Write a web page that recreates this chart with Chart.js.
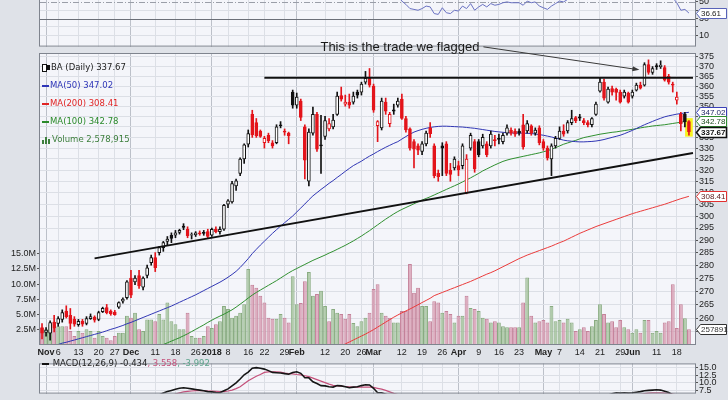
<!DOCTYPE html>
<html>
<head>
<meta charset="utf-8">
<script src="https://cdn.jsdelivr.net/npm/chart.js@4/dist/chart.umd.min.js"></script>
<style>
  body { margin: 0; width: 728px; height: 400px; overflow: hidden; background: #dfe2e8; position: relative; }
  canvas { position: absolute; left: 0; }
  #rsi { top: -50px; }
  #main { top: 30px; }
  #macd { top: 357px; }
  .legend { position: absolute; font: 8.5px "DejaVu Sans"; line-height: 9px; white-space: pre; }
  .ic { display: inline-block; width: 7px; height: 2px; vertical-align: middle; margin-right: 1px; }
  .bar { display: inline-block; width: 2px; vertical-align: bottom; margin-right: 1px; background: #3d7f3d; }
</style>
</head>
<body>
<canvas id="rsi" width="728" height="103"></canvas>
<canvas id="main" width="728" height="328"></canvas>
<canvas id="macd" width="728" height="43"></canvas>

<div class="legend" style="left:42px;top:54px">
<div><span style="display:inline-block;width:3px;height:6px;border:1px solid #111;background:#fff;vertical-align:middle"></span><span style="display:inline-block;width:3px;height:5px;background:#111;vertical-align:middle;margin-right:1px"></span><span style="color:#222">BA (Daily) 337.67</span></div>
<div style="color:#2e35b8"><span class="ic" style="background:#2e35b8"></span>MA(50) 347.02</div>
<div style="color:#e02424"><span class="ic" style="background:#e02424"></span>MA(200) 308.41</div>
<div style="color:#2a8a2a"><span class="ic" style="background:#2a8a2a"></span>MA(100) 342.78</div>
<div style="color:#3d7f3d"><span class="bar" style="height:4px"></span><span class="bar" style="height:7px"></span><span class="bar" style="height:5px;margin-right:2px"></span>Volume 2,578,915</div>
</div>

<div class="legend" style="left:42px;top:359px"><span class="ic" style="background:#111"></span> <span style="color:#222">MACD(12,26,9) -0.434</span><span style="color:#c4507a">, 3.558</span><span style="color:#5aa38a">, -3.992</span></div>

<script>
// trading days shown on the chart
const months = [
  ['Oct', [31]],
  ['Nov', [1,2,3,6,7,8,9,10,13,14,15,16,17,20,21,22,24,27,28,29,30]],
  ['Dec', [1,4,5,6,7,8,11,12,13,14,15,18,19,20,21,22,26,27,28,29]],
  ['Jan', [2,3,4,5,8,9,10,11,12,16,17,18,19,22,23,24,25,26,29,30,31]],
  ['Feb', [1,2,5,6,7,8,9,12,13,14,15,16,20,21,22,23,26,27,28]],
  ['Mar', [1,2,5,6,7,8,9,12,13,14,15,16,19,20,21,22,23,26,27,28,29]],
  ['Apr', [2,3,4,5,6,9,10,11,12,13,16,17,18,19,20,23,24,25,26,27,30]],
  ['May', [1,2,3,4,7,8,9,10,11,14,15,16,17,18,21,22,23,24,25,29,30,31]],
  ['Jun', [1,4,5,6,7,8,11,12,13,14,15,18,19,20,21]]
];

const tickDates = ['Nov 1','Nov 6','Nov 13','Nov 20','Nov 27','Dec 1','Dec 11','Dec 18','Dec 26','Jan 2','Jan 8','Jan 16','Jan 22','Jan 29',
  'Feb 1','Feb 12','Feb 20','Feb 26','Mar 1','Mar 12','Mar 19','Mar 26','Apr 2','Apr 9','Apr 16','Apr 23','May 1','May 7','May 14','May 21','May 29','Jun 1','Jun 11','Jun 18'];
const tickNames = ['Nov','6','13','20','27','Dec','11','18','26','2018','8','16','22','29',
  'Feb','12','20','26','Mar','12','19','26','Apr','9','16','23','May','7','14','21','29','Jun','11','18'];

const priceTicks = [255,260,265,270,275,280,285,290,295,300,305,310,315,320,325,330,335,340,345,350,355,360,365,370,375];
const volTicks = [2.5,5,7.5,10,12.5,15];
const rsiTicks = [10,20,30,40,50];
const macdTicks = [7.5,10,12.5,15];

const open = [256.5,254.8,254.5,258.5,258,259.5,262.5,261,259.5,257.6,
  258.8,258,259.8,260.3,259.5,262.3,263.8,262.5,262.2,264,
  266.2,267.5,275,273.5,276,271.5,276,281,283,285,
  287,289.5,292,292,293.2,295.8,294.5,292,292.2,293,
  293.2,293.5,292,294.5,293.5,294.5,305,306,313,318.5,
  325,331.8,346,342,338,332.5,336,332.5,332.5,341,
  338,337,357,350.5,352.5,340,315,337,346,331.5,
  335.5,339,340,346,355.3,351,352,352,357,357,
  362,364,360,340.5,339.5,352,341.5,348.2,350.5,353.5,
  344,339,333,331,328.5,332,339.5,331,318.5,331,
  332,320,321,322,322,310,330,333,333,331,
  332,331,334,334.5,333,337,338.5,338,338,341,
  338,340.5,337,339.5,333,330,325,331,334.5,338,
  338,342,344.5,344.8,343,342,341,346,357.5,362,
  352,358.8,358.5,357,355,356.5,355,358,360.5,360.5,
  371,367,370.5,370,369.5,365,361,353,346,346,
  342.5];
const high = [258,256.5,259,261,260.5,263,264.5,263.5,260.5,259.5,
  259.5,260.5,261.5,260.8,262.5,264,265,263,262.8,266,
  267.5,274,278,276,278,275.5,280,284,285,287.5,
  289.5,291.5,293,294,294.5,296.8,295.5,293,293.5,293.8,
  294,294.5,295,295.5,295.5,305,307,315,316,325.5,
  332,338.5,348,344,338.5,335.5,337,333.5,341,342.5,
  339,337.5,358,356.5,353.5,341,339,349.5,347,345.5,
  345,344,346,357,359.5,355.5,356,357,358,362,
  367.5,369,361,343,354,354,347,351,354,356,
  345,339.5,334,332,333,338,342,332,320,332.5,
  333,323,326,324,332,327,337,334,334,336.5,
  333,338,336,336.5,337,341,339.5,339,339,346,
  343,341,339.5,340.5,334,331,332,335.5,340,341,
  343,348,345,346,344,343,344.5,352,364,363.5,
  359.5,360,359,358,358,357,358,361.5,362,372,
  373.5,370,371.5,373,370.5,366,362,357,347,347,
  343];
const low = [252.5,253.5,252,255,257,258.5,260,256,257,257,
  257,257.5,259.5,258.5,259,262,261.5,261,261,263.5,
  265.5,267,267.5,272.5,271,270.5,275,280,277.5,284,
  285.5,288,289,291,292.5,294.3,291,290.5,291.5,292,
  292,291,291.5,293,292.5,294,303.5,305.5,311,317.5,
  323,330.5,335,335,335,330,332.5,330,332,339.5,
  336,332,349,349,343,316,313,336,328.5,318.5,
  334,338,339,345.5,352.5,350,349,351,354,355.5,
  361,359.5,347,333,338.5,346,340,346,349.5,343.5,
  337.5,329,321,327,327,331,335,316.5,315,317.5,
  317.5,315,320,317.5,320.5,309.5,329,319,326,330,
  326,330,331,332,332,336,336,335.5,336,329.5,
  337,336,336,331.5,329,324.5,317.5,330,334,335.5,
  337,341,342,343,341,340,340,345.5,357,353,
  351.5,355.5,353,351.5,354,351.5,354,357.5,358.5,360,
  366,366,368.5,369,362.5,361,357,351,338,340,
  336];
const close = [254.5,255.6,258.3,256.5,259.8,262,260.5,258,257.8,258.8,
  257.8,259.8,260.5,259.2,262,263.6,262,261.6,261.2,265.7,
  267,273.5,268.5,275,272,275,279,283,279,287,
  289,290.5,290.7,293,294,295.2,291.8,292.3,293,292.6,
  292.8,291.5,294.5,293.5,294.5,304.5,306.5,314,315.2,325,
  331.5,336.8,336.2,335.8,335.5,334.5,333.5,331,340,340.5,
  337.5,335.8,350.5,354.5,344.5,324.5,337.5,346,329.5,331,
  343,341.5,343.2,355,353.5,352,350.5,355,355.5,361,
  364,360.5,348,342.5,352.5,347.5,346,347.6,352.5,344,
  338.5,330,329.5,329,332,337,336.8,317.5,317,330,
  318.5,318,325,320,331,325,336,320.5,327,335,
  327,336.5,333.5,334,336,339.5,337,336.5,337,330.5,
  341.5,337,338.5,332.5,330,325.5,331,334.5,338,336.5,
  342,344,343,344.2,342,341,344,351,362,354,
  358.5,357,356.8,352,357,352,357,360.5,359,371,
  367,369,369.8,370.8,363,362,360.5,354.5,341.5,342.5,
  337.67];
// volume in millions
const volume = [2.8,2.6,3.4,2.8,3.1,3.1,3.1,2.3,1.5,2.3,
  2.0,2.6,2.3,1.2,2.3,1.5,1.2,0.8,1.5,2.0,
  2.0,4.8,4.5,5.3,2.6,2.3,4.2,4.2,3.9,5.1,
  4.2,7.0,3.9,3.4,2.6,2.6,5.3,1.5,1.2,1.2,
  1.5,3.1,2.8,3.4,3.9,6.4,5.9,4.5,4.8,5.3,
  6.7,12.5,9.9,9.4,8.1,7.0,4.5,4.3,4.3,5.1,
  4.5,3.7,11.3,6.7,6.9,10.5,12.0,8.1,8.4,8.9,
  6.4,3.9,5.9,5.3,5.1,4.3,5.1,3.6,3.1,3.9,
  4.5,5.3,9.2,10.0,5.3,4.8,4.5,3.7,3.7,5.6,
  5.6,13.3,8.6,9.4,6.4,6.4,3.9,7.2,7.0,5.3,
  5.6,5.1,3.7,4.8,4.8,8.1,6.1,5.9,5.6,4.5,
  4.3,3.7,3.9,3.7,3.1,2.9,2.9,2.9,2.9,7.0,
  11.1,4.8,3.7,3.9,4.1,3.7,6.4,3.9,4.1,3.7,
  4.3,3.7,2.3,2.6,2.9,2.3,3.1,4.1,6.7,5.1,
  3.7,3.9,2.9,4.1,2.9,2.6,2.0,2.6,2.0,4.1,
  4.1,2.0,2.3,2.0,3.7,3.9,10.0,2.8,6.7,4.4,
  2.58];
const ma50 = [248.5,249,249.5,250,250.5,251,251.3,251.7,252.1,252.5,
  252.9,253.3,253.7,254.1,254.5,254.9,255.4,255.9,256.3,256.8,
  257.3,257.9,258.4,259,259.6,260.2,260.8,261.4,262,262.6,
  263.2,263.8,264.4,265.1,265.8,266.5,267.2,267.9,268.6,269.4,
  270.2,271,271.8,272.6,273.4,274.3,275.3,276.4,277.6,279.1,
  280.8,282.6,284.6,286.3,288,289.6,291.2,292.8,294.3,295.8,
  297.2,298.6,300,301.7,303.4,305.1,306.9,308.6,310,311.4,
  312.7,314.1,315.3,316.7,318,319.4,320.7,322,323,324,
  325.2,326.3,327.3,328.4,329.4,330.4,331.3,332.2,333,334.2,
  335.4,336.5,337.5,338.2,338.8,339.3,339.7,340,340.2,340.3,
  340.3,340.2,340.1,340,339.9,339.7,339.5,339.3,339,338.7,
  338.4,338.1,337.8,337.6,337.4,337.2,337.1,337,337,337,
  336.9,336.8,336.6,336.3,336,335.6,335.2,334.7,334.2,333.7,
  333.4,333.2,333,332.9,332.9,333,333.1,333.3,333.6,334,
  334.5,335,335.5,336,336.7,337.5,338.3,339.2,340.1,341,
  341.8,342.6,343.4,344.1,344.8,345.3,345.7,346.1,346.4,346.7,
  347.02];
const ma100 = [236,236.5,237,237.5,238,238.5,239,239.5,240,240.5,
  241,241.5,242,242.5,243,243.5,244,244.5,245,245.4,
  245.8,246.2,246.6,247,247.4,247.8,248.3,248.8,249.3,249.8,
  250.5,251.1,251.7,252.3,252.9,253.6,254.3,255.1,255.9,256.7,
  257.5,258.4,259.2,260,260.7,261.4,262.2,263,264,265.1,
  266.2,267.4,268.5,269.5,270.4,271.3,272.2,273.1,274,275,
  276,277,277.9,278.7,279.5,280.3,281.1,281.9,282.6,283.3,
  284,284.8,285.5,286.3,287.1,287.9,288.8,289.7,290.7,291.7,
  292.8,293.9,295.1,296.3,297.5,298.7,299.8,300.9,301.9,302.8,
  303.6,304.4,305.2,306,306.8,307.5,308.2,309,309.8,310.6,
  311.4,312.2,313,313.8,314.7,315.6,316.5,317.5,318.5,319.6,
  320.5,321.4,322.3,323.1,323.9,324.5,325,325.4,325.8,326.2,
  326.6,327,327.4,327.8,328.3,328.8,329.4,330.2,331,331.8,
  332.4,333,333.6,334.3,334.9,335.3,335.7,336.1,336.5,336.8,
  337.1,337.4,337.6,337.9,338.2,338.5,338.8,339.1,339.5,339.8,
  340.1,340.4,340.6,340.8,341,341.3,341.6,341.9,342.2,342.5,
  342.78];
const ma200 = [null,null,null,null,null,null,null,null,null,null,
  null,null,null,null,null,null,null,null,null,null,
  null,null,null,null,null,null,null,null,null,null,
  null,null,null,null,null,null,null,null,null,null,
  null,null,null,null,null,null,null,null,null,null,
  null,null,null,null,null,null,null,null,null,null,
  null,null,null,null,null,null,null,null,null,null,
  247.2,247.9,248.6,249.3,250,250.7,251.4,252.1,252.8,253.5,
  254.2,255,255.8,256.7,257.6,258.5,259.4,260.3,261.1,261.9,
  262.6,263.3,264.1,264.9,265.7,266.5,267.3,268.3,268.9,269.5,
  270.1,270.7,271.3,271.9,272.5,273.1,273.7,274.4,275.1,275.8,
  276.5,277.1,277.8,278.6,279.4,280.2,281,281.8,282.6,283.3,
  284,284.6,285.2,285.8,286.4,287,287.6,288.3,289,289.6,
  290.4,291.2,292,292.8,293.5,294.2,294.9,295.6,296.2,296.8,
  297.4,298,298.6,299.2,299.8,300.4,301,301.5,302,302.5,
  303,303.5,304,304.5,305,305.6,306.2,306.8,307.4,307.9,
  308.41];
const rsi = [56,55,58,56,58,61,58,55,55,56,
  55,57,58,56,60,62,60,59,59,62,
  64,70,62,66,63,66,69,72,67,72,
  74,75,74,76,77,77,71,72,73,72,
  72,67,71,70,71,80,81,85,86,88,
  89,85,82,80,79,76,75,73,76,76,
  73,71,77,78,70,56,66,70,58,59,
  63,62,63,68,67,66,65,66,67,69,
  70,67,58,53,59,56,54,55,57,51,
  47,42,41,40,42,45,44,36,35,43,
  37,36,40,39,45,42,48,40,44,47,
  44,48,46,47,49,50,49,49,49,46,
  51,49,50,45,43,41,45,48,51,50,
  53,55,54,55,54,53,56,62,68,60,
  64,62,61,57,59,55,58,61,60,69,
  64,66,66,67,58,56,55,49,40,41,
  36.61];
const macd = [-1.5,-1.6,-1.4,-1.3,-1.0,-0.6,-0.4,-0.4,-0.4,-0.3,
  -0.3,-0.2,0.0,0.1,0.3,0.6,0.7,0.8,0.9,1.2,
  1.6,2.3,2.5,3.0,3.2,3.6,4.2,4.9,5.2,5.9,
  6.5,7.0,7.4,7.8,8.1,8.3,8.1,7.9,7.7,7.5,
  7.3,7.0,6.9,6.7,6.6,7.3,7.9,8.9,9.9,11.2,
  12.6,13.5,14.8,15.0,14.8,14.5,14.0,13.4,13.3,13.2,
  13.0,12.8,13.4,13.6,13.1,11.6,11.6,10.3,9.7,9.0,
  8.9,8.6,8.5,9.0,8.9,8.6,8.3,8.5,8.6,9.0,
  9.3,9.2,8.1,6.6,6.6,6.1,5.5,5.1,5.0,4.1,
  2.9,1.4,0.3,-0.6,-1.0,-1.0,-1.2,-2.8,-4.0,-3.9,
  -4.8,-5.3,-5.2,-5.3,-4.6,-4.5,-3.5,-3.9,-3.6,-3.0,
  -2.8,-2.0,-1.8,-1.6,-1.2,-0.8,-0.6,-0.5,-0.4,-1.0,
  -0.6,-0.6,-0.5,-1.0,-1.5,-2.2,-2.2,-1.9,-1.2,-0.6,
  0.0,0.8,1.3,1.8,2.2,2.5,2.9,3.6,4.8,5.2,
  5.8,6.3,6.6,6.5,6.6,6.5,6.6,6.8,7.0,7.3,
  7.4,7.5,7.6,7.5,7.1,6.7,5.9,4.9,3.0,1.4,
  -0.434];
const signal = [-0.8,-0.9,-1.0,-1.0,-1.0,-1.0,-0.9,-0.8,-0.7,-0.6,
  -0.5,-0.5,-0.4,-0.3,-0.2,0.0,0.1,0.3,0.4,0.6,
  0.8,1.1,1.4,1.7,2.0,2.3,2.7,3.1,3.5,4.0,
  4.5,5.0,5.5,6.2,6.6,6.9,7.1,7.2,7.3,7.3,
  7.3,7.2,7.2,7.1,7.0,7.0,7.2,7.5,8.0,8.6,
  9.6,10.6,11.4,12.1,12.7,13.4,13.6,13.6,13.6,13.5,
  13.2,13.0,12.9,12.7,12.6,12.3,12.0,11.5,11.0,10.5,
  10.0,9.5,9.1,8.9,8.8,8.7,8.6,8.5,8.5,8.5,
  8.5,8.5,8.4,8.1,7.8,7.4,6.9,6.4,6.0,5.5,
  4.8,4.0,3.2,2.4,1.8,1.2,0.7,0.0,-0.8,-1.4,
  -2.1,-2.7,-3.1,-3.5,-3.8,-4.0,-4.0,-4.0,-3.9,-3.7,
  -3.5,-3.3,-3.0,-2.8,-2.5,-2.2,-2.0,-1.7,-1.5,-1.4,
  -1.3,-1.2,-1.1,-1.1,-1.2,-1.4,-1.5,-1.6,-1.6,-1.5,
  -1.3,-0.9,-0.5,0.0,0.4,0.8,1.2,1.6,2.1,2.6,
  3.0,3.5,3.9,4.3,4.7,5.0,5.3,5.6,6.0,6.3,
  6.5,6.6,6.6,6.6,6.5,6.4,6.2,5.9,5.3,4.5,
  3.558];

// hand drawn trend lines: [start day index, price, end day index, price]
const supportLine = [13, 282.7, 161, 327.7];
const resistLine = [55, 364.2, 161, 364.2];
const flagged = { idx: 148, price: 368.3, text: 'This is the trade we flagged' };

// ---- build
const dates = [];
months.forEach(([m, days]) => days.forEach(d => dates.push(m + ' ' + d)));
const labels = dates.concat(['']);
const tickText = labels.map(l => { const k = tickDates.indexOf(l); return k < 0 ? '' : tickNames[k]; });
const isBold = t => t !== '' && isNaN(+t) || t === '2018';

const RED = '#e3141b', BLACK = '#111111';
const candleCol = close.map((c, i) => (i > 0 && c >= close[i - 1]) ? BLACK : RED);
const bodyFill = close.map((c, i) => c > open[i] ? '#ffffff' : candleCol[i]);
const volFill = candleCol.map(c => c === RED ? 'rgba(216,156,178,0.82)' : 'rgba(162,194,154,0.82)');
const volLine = candleCol.map(c => c === RED ? '#c48199' : '#88ab80');

function lineData(spec) {
  const d = labels.map(() => null);
  d[spec[0]] = spec[1];
  d[spec[2]] = spec[3];
  return d;
}

const family = '"Liberation Sans", Arial, sans-serif';
Chart.defaults.font.family = family;
Chart.defaults.font.size = 9;
Chart.defaults.color = '#222';

const xGridColor = ctx => {
  const t = tickText[ctx.index];
  if (!t) return 'rgba(0,0,0,0)';
  return isBold(t) ? '#bcc0c9' : '#dcdfe6';
};

const plotBg = {
  id: 'plotBg',
  beforeDraw(chart) {
    const { ctx, chartArea: a } = chart;
    ctx.save();
    ctx.fillStyle = '#f4f5fa';
    ctx.fillRect(a.left, a.top, a.width, a.height);
    ctx.restore();
  },
  afterDraw(chart) {
    const { ctx, chartArea: a } = chart;
    ctx.save();
    ctx.strokeStyle = '#7f848e';
    ctx.lineWidth = 1;
    ctx.strokeRect(a.left - 0.5, a.top + 0.5, a.width + 1, a.height - 1);
    ctx.restore();
  }
};

function tags(list) {
  return {
    id: 'tags',
    afterDraw(chart) {
      const { ctx, chartArea: a } = chart;
      list.forEach(t => {
        const y = Math.round(chart.scales[t.axis].getPixelForValue(t.value)) + 0.5;
        const x0 = a.right + 1.5, x1 = x0 + 4, x2 = chart.width - 1.5;
        ctx.save();
        ctx.beginPath();
        ctx.moveTo(x0, y); ctx.lineTo(x1, y - 5); ctx.lineTo(x2, y - 5);
        ctx.lineTo(x2, y + 5); ctx.lineTo(x1, y + 5); ctx.closePath();
        ctx.fillStyle = '#ffffff';
        ctx.fill();
        ctx.lineWidth = t.bold ? 1.6 : 1;
        ctx.strokeStyle = t.color;
        ctx.stroke();
        ctx.fillStyle = t.textColor || t.color;
        ctx.font = (t.bold ? 'bold ' : '') + '8px ' + family;
        ctx.textAlign = 'left';
        ctx.textBaseline = 'middle';
        ctx.fillText(t.text, x1 + 0.5, y + 0.5);
        ctx.restore();
      });
    }
  };
}

const xAxis = (showLabels) => ({
  offset: true,
  grid: { offset: false, color: xGridColor, drawTicks: false },
  border: { display: false },
  afterFit: s => { s.height = showLabels ? 13 : 0; },
  ticks: showLabels ? {
    autoSkip: false, maxRotation: 0, minRotation: 0, padding: 2,
    callback: (v, i) => tickText[i],
    font: ctx => ({ family, size: 9, weight: isBold(tickText[ctx.index] || '') ? 'bold' : 'normal' }),
    color: '#222'
  } : { display: false }
});

// ---- RSI strip (only its lower part is on screen)
new Chart(document.getElementById('rsi'), {
  type: 'line',
  data: { labels, datasets: [{ data: rsi, borderColor: '#6a72c2', borderWidth: 1, pointRadius: 0 }] },
  options: {
    responsive: false, animation: false,
    layout: { padding: { left: 40 }, autoPadding: false },
    plugins: { legend: { display: false }, tooltip: { enabled: false } },
    scales: {
      x: xAxis(false),
      y: {
        position: 'right', min: -3.7, max: 104.7,
        afterBuildTicks: s => { s.ticks = rsiTicks.map(v => ({ value: v })); },
        afterFit: s => { s.width = 33; },
        ticks: { autoSkip: false, padding: 1, callback: v => (v === 20 || v === 40) ? '' : String(v) },
        grid: { color: ctx => (ctx.tick && (ctx.tick.value === 30 || ctx.tick.value === 50)) ? 'rgba(0,0,0,0)' : '#dcdfe6', tickLength: 3, tickColor: '#555' },
        border: { display: false }
      }
    }
  },
  plugins: [plotBg, {
    id: 'levels',
    beforeDatasetsDraw(chart) {
      const { ctx, chartArea: a, scales } = chart;
      ctx.save();
      let y = Math.round(scales.y.getPixelForValue(30)) + 0.5;
      ctx.strokeStyle = '#6b6f78'; ctx.lineWidth = 1;
      ctx.beginPath(); ctx.moveTo(a.left, y); ctx.lineTo(a.right, y); ctx.stroke();
      y = Math.round(scales.y.getPixelForValue(50)) + 0.5;
      ctx.strokeStyle = '#9a9ea8'; ctx.setLineDash([6, 2, 1, 2]);
      ctx.beginPath(); ctx.moveTo(a.left, y); ctx.lineTo(a.right, y); ctx.stroke();
      ctx.restore();
    }
  }, tags([{ axis: 'y', value: 36.61, text: '36.61', color: '#5863b8', textColor: '#222' }])]
});

// ---- price + volume
new Chart(document.getElementById('main'), {
  type: 'bar',
  data: {
    labels,
    datasets: [
      { type: 'line', data: lineData(supportLine), yAxisID: 'y', borderColor: '#111', borderWidth: 2, pointRadius: 0, spanGaps: true, order: 1 },
      { type: 'line', data: lineData(resistLine), yAxisID: 'y', borderColor: '#111', borderWidth: 2, pointRadius: 0, spanGaps: true, order: 1 },
      { data: close.map((c, i) => open[i] === c ? null : [open[i], c]), yAxisID: 'y', grouped: false, barThickness: 3,
        backgroundColor: bodyFill, borderColor: candleCol, borderWidth: 1, borderSkipped: false, order: 2 },
      { data: high.map((h, i) => [low[i], h]), yAxisID: 'y', grouped: false, barThickness: 1,
        backgroundColor: candleCol, borderWidth: 0, order: 3 },
      { data: close.map((c, i) => i === close.length - 1 ? [low[i] - 0.5, high[i] + 1] : null), yAxisID: 'y', grouped: false, barThickness: 7,
        backgroundColor: '#f7f21e', borderWidth: 0, order: 4 },
      { type: 'line', data: ma50, yAxisID: 'y', borderColor: '#3036b4', borderWidth: 1, pointRadius: 0, order: 5 },
      { type: 'line', data: ma100, yAxisID: 'y', borderColor: '#2f8f2f', borderWidth: 1, pointRadius: 0, order: 5 },
      { type: 'line', data: ma200, yAxisID: 'y', borderColor: '#ea3a3a', borderWidth: 1, pointRadius: 0, order: 5 },
      { data: volume, yAxisID: 'yv', grouped: false, barPercentage: 0.95, categoryPercentage: 1,
        backgroundColor: volFill, borderColor: volLine, borderWidth: 1, borderSkipped: 'start', order: 10 }
    ]
  },
  options: {
    responsive: false, animation: false,
    layout: { padding: { top: 23 }, autoPadding: false },
    plugins: { legend: { display: false }, tooltip: { enabled: false } },
    scales: {
      x: xAxis(true),
      y: {
        type: 'logarithmic', position: 'right', min: 250.34, max: 377.11,
        afterBuildTicks: s => { s.ticks = priceTicks.map(v => ({ value: v })); },
        afterFit: s => { s.width = 33; },
        ticks: { autoSkip: false, padding: 1, callback: v => v >= 260 ? String(v) : '' },
        grid: { color: '#dcdfe6', tickLength: 3, tickColor: '#555' },
        border: { display: false }
      },
      yv: {
        position: 'left', min: 0, max: 48,
        afterBuildTicks: s => { s.ticks = volTicks.map(v => ({ value: v })); },
        afterFit: s => { s.width = 40; },
        ticks: { autoSkip: false, padding: 1, callback: v => v.toFixed(1) + 'M' },
        grid: { drawOnChartArea: false, tickLength: 3, tickColor: '#555' },
        border: { display: false }
      }
    }
  },
  plugins: [plotBg, {
    id: 'flag',
    afterDraw(chart) {
      const { ctx, scales } = chart;
      const tx = scales.x.getPixelForValue(flagged.idx) - 1;
      const ty = scales.y.getPixelForValue(flagged.price);
      const sx = tx - 156, sy = ty - 23;
      ctx.save();
      ctx.strokeStyle = '#3a3a3a'; ctx.fillStyle = '#3a3a3a'; ctx.lineWidth = 1;
      const ang = Math.atan2(ty - sy, tx - sx);
      ctx.beginPath(); ctx.moveTo(sx, sy); ctx.lineTo(tx - 6 * Math.cos(ang), ty - 6 * Math.sin(ang)); ctx.stroke();
      ctx.beginPath();
      ctx.moveTo(tx, ty);
      ctx.lineTo(tx - 7 * Math.cos(ang) + 2.5 * Math.sin(ang), ty - 7 * Math.sin(ang) - 2.5 * Math.cos(ang));
      ctx.lineTo(tx - 7 * Math.cos(ang) - 2.5 * Math.sin(ang), ty - 7 * Math.sin(ang) + 2.5 * Math.cos(ang));
      ctx.closePath(); ctx.fill();
      ctx.fillStyle = '#1a1a1a';
      ctx.font = '13px ' + family;
      ctx.textAlign = 'right'; ctx.textBaseline = 'alphabetic';
      ctx.fillText(flagged.text, sx - 4, sy + 4);
      ctx.restore();
    }
  }, tags([
    { axis: 'y', value: 347.02, text: '347.02', color: '#3a40b8', textColor: '#1f2566' },
    { axis: 'y', value: 342.78, text: '342.78', color: '#2f8f2f', textColor: '#1d4d1d' },
    { axis: 'y', value: 337.67, text: '337.67', color: '#111', bold: true },
    { axis: 'y', value: 308.41, text: '308.41', color: '#e23030', textColor: '#5a1a1a' },
    { axis: 'yv', value: 2.578915, text: '2578915', color: '#333' }
  ])]
});

// ---- MACD (only its top is on screen)
new Chart(document.getElementById('macd'), {
  type: 'line',
  data: {
    labels,
    datasets: [
      { data: macd, borderColor: '#151515', borderWidth: 1.6, pointRadius: 0 },
      { data: signal, borderColor: '#c4507a', borderWidth: 1.2, pointRadius: 0 }
    ]
  },
  options: {
    responsive: false, animation: false,
    layout: { padding: { left: 40 }, autoPadding: false },
    plugins: { legend: { display: false }, tooltip: { enabled: false } },
    scales: {
      x: xAxis(false),
      y: {
        position: 'right', min: 6.33, max: 16.41,
        afterBuildTicks: s => { s.ticks = macdTicks.map(v => ({ value: v })); },
        afterFit: s => { s.width = 33; },
        ticks: { autoSkip: false, padding: 1, callback: v => v.toFixed(1) },
        grid: { color: '#dcdfe6', tickLength: 3, tickColor: '#555' },
        border: { display: false }
      }
    }
  },
  plugins: [plotBg]
});
</script>
</body>
</html>
